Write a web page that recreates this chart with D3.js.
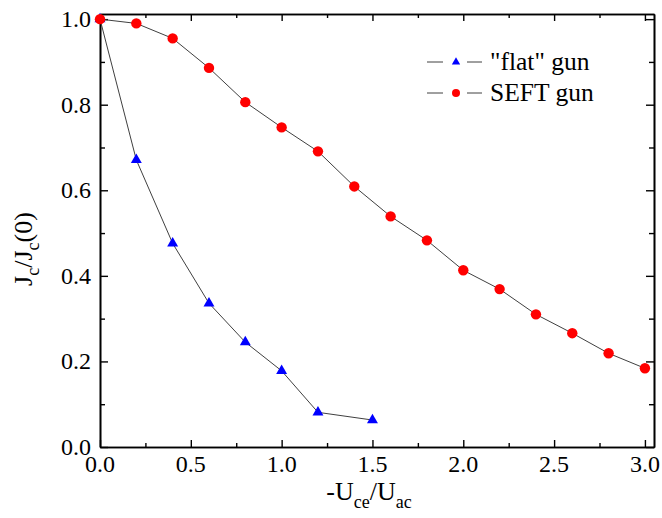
<!DOCTYPE html>
<html>
<head>
<meta charset="utf-8">
<script src="https://cdn.jsdelivr.net/npm/d3@7"></script>
<style>
  body { margin: 0; background: #fff; }
</style>
</head>
<body>
<svg id="canvas" width="662" height="518"></svg>
<script>
// data
const flatX = [0, 0.2, 0.4, 0.6, 0.8, 1.0, 1.2, 1.5]
const flatY = [1.0, 0.671, 0.476, 0.336, 0.245, 0.178, 0.081, 0.063]

const seftX = [0, 0.2, 0.4, 0.6, 0.8, 1.0, 1.2, 1.4, 1.6, 1.8, 2.0, 2.2, 2.4, 2.6, 2.8, 3.0]
const seftY = [1.0, 0.990, 0.955, 0.886, 0.806, 0.747, 0.691, 0.609, 0.539, 0.483, 0.413, 0.369, 0.310, 0.266, 0.219, 0.184]

const xTicks = [0, 0.5, 1.0, 1.5, 2.0, 2.5, 3.0]
const xMinor = [0.25, 0.75, 1.25, 1.75, 2.25, 2.75]
const yTicks = [0, 0.2, 0.4, 0.6, 0.8, 1.0]
const yMinor = [0.1, 0.3, 0.5, 0.7, 0.9]

const seriesNames = ['"flat" gun', 'SEFT gun']

const serif = 'Liberation Serif'

let canvas = d3.select('#canvas')

let plotLeft = 100, plotRight = 654, plotTop = 14, plotBottom = 447

let x = d3.scaleLinear().domain([0, 3.05]).range([plotLeft, plotRight])
let y = d3.scaleLinear().domain([0, 1.012]).range([plotBottom, plotTop])

function styleAxis(g) {
    g.select('.domain').attr('stroke', '#000').attr('stroke-width', 1.6)
    g.selectAll('.tick line').attr('stroke', '#000').attr('stroke-width', 1.4)
    g.selectAll('.tick text').remove()
}

// minor ticks first, major axes on top (all ticks point inward)
canvas.append('g').attr('transform', 'translate(0,' + plotBottom + ')')
    .call(d3.axisBottom(x).tickValues(xMinor).tickSize(-4).tickSizeOuter(0)).call(styleAxis)
canvas.append('g').attr('transform', 'translate(0,' + plotTop + ')')
    .call(d3.axisTop(x).tickValues(xMinor).tickSize(-4).tickSizeOuter(0)).call(styleAxis)
canvas.append('g').attr('transform', 'translate(' + plotLeft + ',0)')
    .call(d3.axisLeft(y).tickValues(yMinor).tickSize(-5).tickSizeOuter(0)).call(styleAxis)
canvas.append('g').attr('transform', 'translate(' + plotRight + ',0)')
    .call(d3.axisRight(y).tickValues(yMinor).tickSize(-5).tickSizeOuter(0)).call(styleAxis)

canvas.append('g').attr('transform', 'translate(0,' + plotBottom + ')')
    .call(d3.axisBottom(x).tickValues(xTicks).tickSize(-7).tickSizeOuter(0)).call(styleAxis)
canvas.append('g').attr('transform', 'translate(0,' + plotTop + ')')
    .call(d3.axisTop(x).tickValues(xTicks).tickSize(-7).tickSizeOuter(0)).call(styleAxis)
canvas.append('g').attr('transform', 'translate(' + plotLeft + ',0)')
    .call(d3.axisLeft(y).tickValues(yTicks).tickSize(-8).tickSizeOuter(0)).call(styleAxis)
canvas.append('g').attr('transform', 'translate(' + plotRight + ',0)')
    .call(d3.axisRight(y).tickValues(yTicks).tickSize(-8).tickSizeOuter(0)).call(styleAxis)

// tick labels
let fmt = d3.format('.1f')
canvas.selectAll('.xlabel').data(xTicks).enter().append('text')
    .attr('class', 'xlabel')
    .attr('x', d => x(d)).attr('y', plotBottom + 25)
    .attr('text-anchor', 'middle')
    .style('font-family', serif).style('font-size', '24px')
    .text(d => fmt(d))
canvas.selectAll('.ylabel').data(yTicks).enter().append('text')
    .attr('class', 'ylabel')
    .attr('x', plotLeft - 9).attr('y', d => y(d) + 8)
    .attr('text-anchor', 'end')
    .style('font-family', serif).style('font-size', '24px')
    .text(d => fmt(d))

let line = d3.line().x(d => x(d[0])).y(d => y(d[1]))

let flatData = flatX.map((v, i) => [v, flatY[i]])
let seftData = seftX.map((v, i) => [v, seftY[i]])

canvas.append('path').datum(flatData).attr('d', line)
    .attr('fill', 'none').attr('stroke', '#404040').attr('stroke-width', 1)
canvas.append('path').datum(seftData).attr('d', line)
    .attr('fill', 'none').attr('stroke', '#404040').attr('stroke-width', 1)

let tri = d3.symbol().type(d3.symbolTriangle)

canvas.selectAll('.flat').data(flatData).enter().append('path')
    .attr('class', 'flat')
    .attr('d', tri.size(52)())
    .attr('transform', d => 'translate(' + x(d[0]) + ',' + y(d[1]) + ')')
    .attr('fill', '#0000ff')

canvas.selectAll('.seft').data(seftData).enter().append('circle')
    .attr('class', 'seft')
    .attr('cx', d => x(d[0])).attr('cy', d => y(d[1])).attr('r', 5.2)
    .attr('fill', '#ff0000')

// legend
let legend = canvas.append('g')
let rows = [62, 93]
rows.forEach((ry, i) => {
    legend.append('line').attr('x1', 427).attr('x2', 443).attr('y1', ry).attr('y2', ry)
        .attr('stroke', '#404040').attr('stroke-width', 1)
    legend.append('line').attr('x1', 467).attr('x2', 482).attr('y1', ry).attr('y2', ry)
        .attr('stroke', '#404040').attr('stroke-width', 1)
    if (i === 0) {
        legend.append('path').attr('d', tri.size(30)())
            .attr('transform', 'translate(456,' + ry + ')').attr('fill', '#0000ff')
    } else {
        legend.append('circle').attr('cx', 456).attr('cy', ry).attr('r', 4).attr('fill', '#ff0000')
    }
    legend.append('text').attr('x', 490).attr('y', ry + 8).style('font-family', serif)
        .style('font-size', '25.5px').text(seriesNames[i])
})

// axis titles
let xt = canvas.append('text').attr('x', 369).attr('y', 500).attr('text-anchor', 'middle')
    .style('font-family', serif).style('font-size', '26px')
xt.append('tspan').text('-U')
xt.append('tspan').attr('dy', 8).style('font-size', '18px').text('ce')
xt.append('tspan').attr('dy', -8).text('/U')
xt.append('tspan').attr('dy', 8).style('font-size', '18px').text('ac')

let yt = canvas.append('text').attr('transform', 'translate(32,249) rotate(-90)')
    .attr('text-anchor', 'middle').style('font-family', serif).style('font-size', '26px')
yt.append('tspan').text('J')
yt.append('tspan').attr('dy', 7).style('font-size', '18px').text('c')
yt.append('tspan').attr('dy', -7).text('/J')
yt.append('tspan').attr('dy', 7).style('font-size', '18px').text('c')
yt.append('tspan').attr('dy', -7).text('(0)')
</script>
</body>
</html>
